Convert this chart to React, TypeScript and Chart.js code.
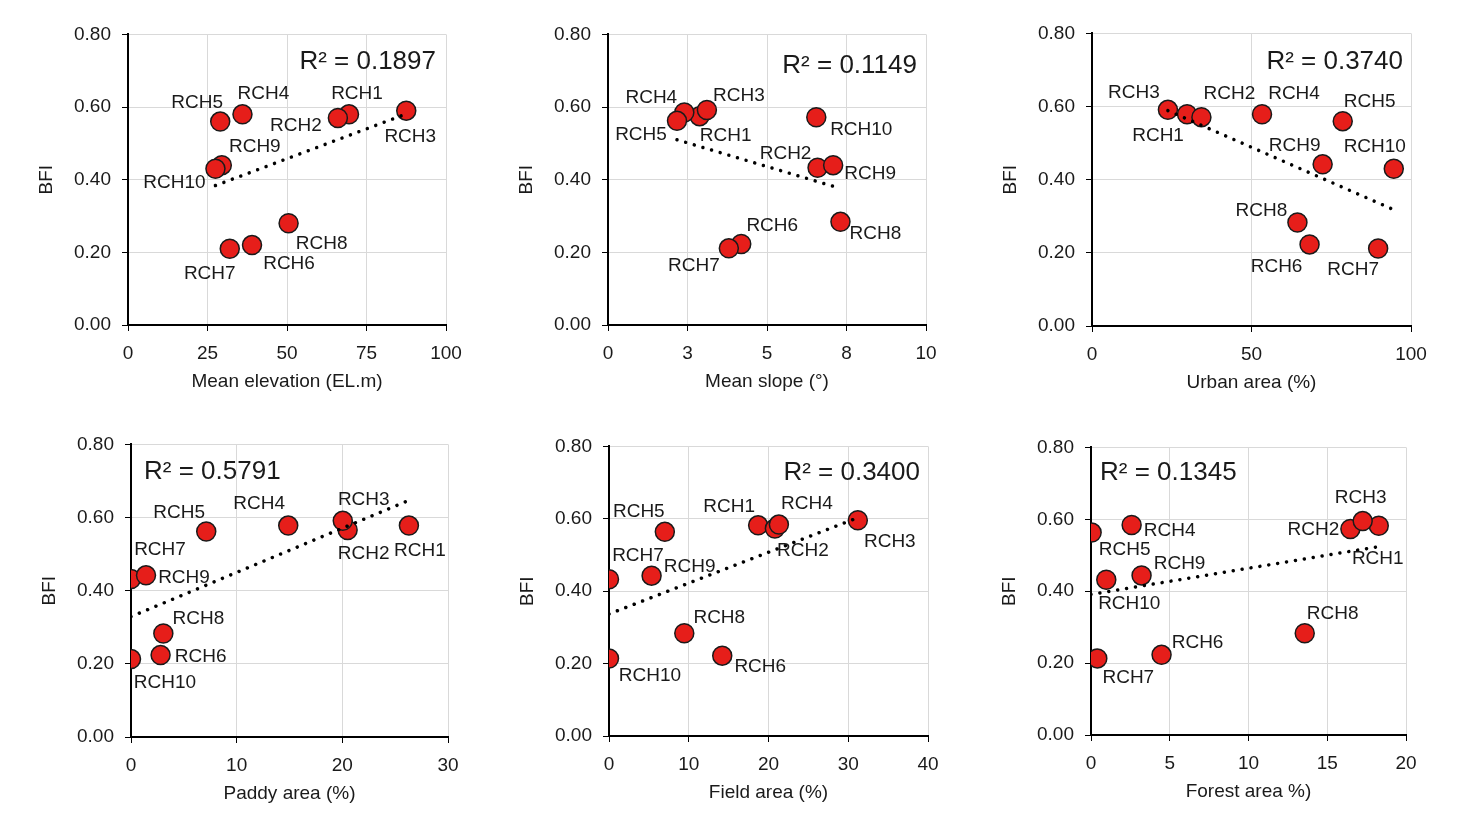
import { useEffect, useRef } from "react"
import { Chart, registerables } from "chart.js"

Chart.register(...registerables)

Chart.defaults.font.family = "'Liberation Sans', Arial, sans-serif"
Chart.defaults.color = "#1a1a1a"

const stations = ["RCH1", "RCH2", "RCH3", "RCH4", "RCH5", "RCH6", "RCH7", "RCH8", "RCH9", "RCH10"]
const yTickLabels = ["0.00", "0.20", "0.40", "0.60", "0.80"]

// Mean elevation
const elevX = [69.5, 66, 87.5, 36, 29, 39, 32, 50.5, 29.5, 27.5]
const elevY = [0.58, 0.57, 0.59, 0.58, 0.56, 0.22, 0.21, 0.28, 0.44, 0.43]
const elevTrend = [[27.5, 0.384], [87.5, 0.581]]
const elevTicks = ["0", "25", "50", "75", "100"]

// Mean slope
const slopeX = [2.88, 6.59, 3.11, 2.4, 2.17, 4.19, 3.8, 7.31, 7.08, 6.55]
const slopeY = [0.575, 0.433, 0.592, 0.585, 0.562, 0.223, 0.211, 0.284, 0.44, 0.572]
const slopeTrend = [[2.17, 0.51], [7.31, 0.376]]
const slopeTicks = ["0", "3", "5", "8", "10"]

// Urban area
const urbanX = [29.8, 34.3, 23.8, 53.3, 78.6, 68.2, 89.7, 64.4, 72.3, 94.6]
const urbanY = [0.579, 0.571, 0.591, 0.579, 0.56, 0.223, 0.212, 0.283, 0.442, 0.43]
const urbanTrend = [[23.8, 0.589], [94.6, 0.318]]
const urbanTicks = ["0", "50", "100"]

// Paddy area
const paddyX = [26.3, 20.5, 20.04, 14.88, 7.12, 2.8, 0, 3.06, 1.42, 0]
const paddyY = [0.578, 0.566, 0.591, 0.578, 0.562, 0.224, 0.432, 0.283, 0.442, 0.213]
const paddyTrend = [[0, 0.329], [26.3, 0.647]]
const paddyTicks = ["0", "10", "20", "30"]

// Field area
const fieldX = [18.7, 20.8, 31.2, 21.3, 7.0, 14.2, 0, 9.44, 5.34, 0]
const fieldY = [0.582, 0.573, 0.596, 0.584, 0.564, 0.222, 0.433, 0.284, 0.443, 0.214]
const fieldTrend = [[0, 0.337], [31.2, 0.603]]
const fieldTicks = ["0", "10", "20", "30", "40"]

// Forest area
const forestX = [18.27, 16.47, 17.25, 2.58, 0.04, 4.48, 0.4, 13.57, 3.21, 0.97]
const forestY = [0.582, 0.573, 0.595, 0.584, 0.563, 0.223, 0.213, 0.283, 0.444, 0.432]
const forestTrend = [[0, 0.391], [18.27, 0.524]]
const forestTicks = ["0", "5", "10", "15", "20"]

const r2Values = ["0.1897", "0.1149", "0.3740", "0.5791", "0.3400", "0.1345"]

type Panel = {
  title: string
  xs: number[]
  ys: number[]
  trend: number[][]
  ticks: string[]
  xMax: number
  step: number
  r2: string
  r2Side: "left" | "right"
  r2dx: number
  r2dy: number
  rect: { left: number; top: number; right: number; bottom: number }
  offsets: number[][]
}

const panels: Panel[] = [
  {
    title: "Mean elevation (EL.m)", xs: elevX, ys: elevY, trend: elevTrend, ticks: elevTicks,
    xMax: 100, step: 25, r2: r2Values[0], r2Side: "right", r2dx: 10, r2dy: 27,
    rect: { left: 127.5, top: 32, right: 445.5, bottom: 325 },
    offsets: [[8, -21], [-42, 8], [4, 26], [21, -21], [-23, -19], [37, 19], [-20, 25], [33, 20], [33, -18], [-41, 14]],
  },
  {
    title: "Mean slope (°)", xs: slopeX, ys: slopeY, trend: slopeTrend, ticks: slopeTicks,
    xMax: 10, step: 2.5, r2: r2Values[1], r2Side: "right", r2dx: 9, r2dy: 31,
    rect: { left: 607.5, top: 32, right: 925.5, bottom: 325 },
    offsets: [[26, 20], [-32, -14], [32, -14], [-33, -15], [-36, 14], [31, -18], [-35, 17], [35, 12], [37, 9], [45, 13]],
  },
  {
    title: "Urban area (%)", xs: urbanX, ys: urbanY, trend: urbanTrend, ticks: urbanTicks,
    xMax: 100, step: 50, r2: r2Values[2], r2Side: "right", r2dx: 8, r2dy: 28,
    rect: { left: 1091.5, top: 31, right: 1410.5, bottom: 325.5 },
    offsets: [[-29, 22], [28, -23], [-34, -17], [32, -20], [27, -19], [-33, 22], [-25, 21], [-36, -12], [-28, -19], [-19, -22]],
  },
  {
    title: "Paddy area (%)", xs: paddyX, ys: paddyY, trend: paddyTrend, ticks: paddyTicks,
    xMax: 30, step: 10, r2: r2Values[3], r2Side: "left", r2dx: 13, r2dy: 27,
    rect: { left: 130.5, top: 442, right: 447.5, bottom: 736.5 },
    offsets: [[11, 25], [16, 24], [21, -21], [-29, -22], [-27, -19], [40, 2], [29, -29], [35, -15], [38, 2], [34, 24]],
  },
  {
    title: "Field area (%)", xs: fieldX, ys: fieldY, trend: fieldTrend, ticks: fieldTicks,
    xMax: 40, step: 10, r2: r2Values[4], r2Side: "right", r2dx: 8, r2dy: 26,
    rect: { left: 609, top: 444, right: 928, bottom: 735.5 },
    offsets: [[-29, -19], [28, 22], [32, 22], [28, -21], [-26, -20], [38, 11], [29, -23], [35, -15], [38, -9], [41, 17]],
  },
  {
    title: "Forest area %)", xs: forestX, ys: forestY, trend: forestTrend, ticks: forestTicks,
    xMax: 20, step: 5, r2: r2Values[5], r2Side: "left", r2dx: 9, r2dy: 25,
    rect: { left: 1090.5, top: 445, right: 1405.5, bottom: 735 },
    offsets: [[-1, 33], [-37, 1], [-2, -23], [38, 6], [33, 17], [36, -12], [31, 19], [28, -19], [38, -12], [23, 24]],
  },
]

const Y_AXIS_W = 100
const X_AXIS_H = 68
const PAD_TOP = 20
const PAD_RIGHT = 30

function ScatterPanel({ p }: { p: Panel }) {
  const canvasRef = useRef<HTMLCanvasElement>(null)
  const plotW = p.rect.right - p.rect.left
  const plotH = p.rect.bottom - p.rect.top
  const width = Math.round(plotW + Y_AXIS_W + PAD_RIGHT)
  const height = Math.round(plotH + PAD_TOP + X_AXIS_H)

  useEffect(() => {
    if (!canvasRef.current) return

    const labelPlugin = {
      id: "pointLabels",
      afterDatasetsDraw(chart: any) {
        const ctx = chart.ctx
        const meta = chart.getDatasetMeta(1)
        ctx.save()
        ctx.fillStyle = "#1a1a1a"
        ctx.font = "19px 'Liberation Sans', Arial, sans-serif"
        ctx.textAlign = "center"
        ctx.textBaseline = "middle"
        meta.data.forEach((pt: any, i: number) => {
          const [dx, dy] = p.offsets[i]
          ctx.fillText(stations[i], pt.x + dx, pt.y + dy)
        })
        // R² text
        const area = chart.chartArea
        ctx.font = "26px 'Liberation Sans', Arial, sans-serif"
        ctx.textAlign = p.r2Side
        const tx = p.r2Side === "right" ? area.right - p.r2dx : area.left + p.r2dx
        ctx.fillText(`R² = ${p.r2}`, tx, area.top + p.r2dy)
        ctx.restore()
      },
    }

    const chart = new Chart(canvasRef.current, {
      type: "scatter",
      data: {
        datasets: [
          {
            data: p.trend.map(([x, y]) => ({ x, y })),
            showLine: true,
            borderColor: "#000",
            borderWidth: 3.5,
            borderDash: [0.01, 9],
            borderCapStyle: "round",
            pointRadius: 0,
            fill: false,
          } as any,
          {
            data: p.xs.map((x, i) => ({ x, y: p.ys[i] })),
            backgroundColor: "#e61e1a",
            borderColor: "#1a1a1a",
            borderWidth: 1.5,
            pointRadius: 9.5,
          },
        ],
      },
      options: {
        responsive: false,
        animation: false,
        layout: { padding: { top: PAD_TOP, right: PAD_RIGHT, left: 0, bottom: 0 } },
        plugins: { legend: { display: false }, tooltip: { enabled: false } },
        scales: {
          x: {
            type: "linear",
            min: 0,
            max: p.xMax,
            afterFit: (s: any) => { s.height = X_AXIS_H },
            ticks: {
              stepSize: p.step,
              autoSkip: false,
              maxRotation: 0,
              padding: 11,
              font: { size: 19 },
              callback: (_v: any, i: number) => p.ticks[i],
            },
            grid: { color: "#d9d9d9", lineWidth: 1, tickColor: "#000", tickLength: 6 },
            border: { color: "#000", width: 2 },
            title: { display: true, text: p.title, font: { size: 19 }, padding: 0 },
          },
          y: {
            min: 0,
            max: 0.8,
            afterFit: (s: any) => { s.width = Y_AXIS_W },
            ticks: {
              stepSize: 0.2,
              padding: 11,
              font: { size: 19 },
              callback: (_v: any, i: number) => yTickLabels[i],
            },
            grid: { color: "#d9d9d9", lineWidth: 1, tickColor: "#000", tickLength: 6 },
            border: { color: "#000", width: 2 },
            title: { display: true, text: "BFI", font: { size: 19 }, padding: { top: 7, bottom: 0 } },
          },
        },
      },
      plugins: [labelPlugin],
    })

    return () => {
      chart.destroy()
    }
  }, [])

  return (
    <canvas
      ref={canvasRef}
      width={width}
      height={height}
      style={{
        position: "absolute",
        left: Math.round(p.rect.left - Y_AXIS_W),
        top: Math.round(p.rect.top - PAD_TOP),
        width,
        height,
      }}
    />
  )
}

export default function App() {
  return (
    <div style={{ position: "absolute", left: 0, top: 0, width: 1464, height: 824, background: "#fff" }}>
      {panels.map((p, i) => (
        <ScatterPanel key={i} p={p} />
      ))}
    </div>
  )
}
